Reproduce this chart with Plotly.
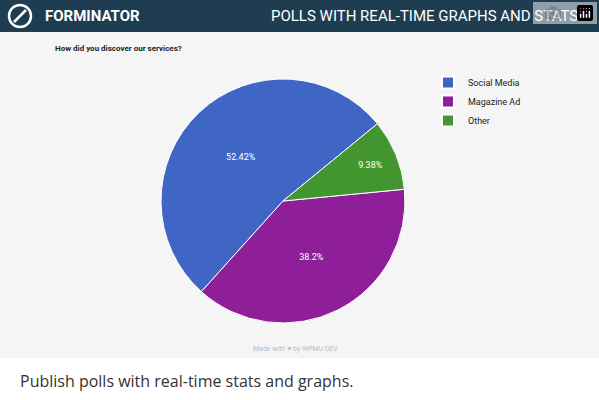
import plotly.graph_objects as go

labels = ["Social Media", "Magazine Ad", "Other"]
values = [52.42, 38.2, 9.38]
colors = ["#3f66c5", "#8e1f98", "#43962f"]

W, H = 599, 400
fig = go.Figure(go.Pie(
    labels=labels, values=values, sort=False, direction="counterclockwise", rotation=222,
    marker=dict(colors=colors, line=dict(color="white", width=1)),
    textinfo="percent", texttemplate="%{value}%", textposition="inside",
    insidetextfont=dict(color="white", size=9, family="Roboto"),
    domain=dict(x=[158/W, 408/W], y=[1-323/H, 1-79/H]),
    hoverinfo="label+percent",
))
shapes = [
    dict(type="rect", xref="paper", yref="paper", x0=0, x1=1, y0=1-32/H, y1=1,
         fillcolor="#1f3d51", line_width=0, layer="below"),
    dict(type="rect", xref="paper", yref="paper", x0=0, x1=1, y0=1-358/H, y1=1-32/H,
         fillcolor="#f5f5f5", line_width=0, layer="below"),
    dict(type="circle", xref="paper", yref="paper", x0=9/W, x1=31/W, y0=1-27/H, y1=1-5/H,
         line=dict(color="white", width=2.5)),
    dict(type="line", xref="paper", yref="paper", x0=14/W, x1=26/W, y0=1-22/H, y1=1-10/H,
         line=dict(color="white", width=2.5)),
]
ann = [
    dict(text="<b>FORMINATOR</b>", x=43/W, y=1-16/H, xanchor="left", yanchor="middle",
         font=dict(color="white", size=15, family="Roboto")),
    dict(text="POLLS WITH REAL-TIME GRAPHS AND STATS", x=580/W, y=1-16/H, xanchor="right",
         yanchor="middle", font=dict(color="white", size=15, family="Roboto")),
    dict(text="<b>How did you discover our services?</b>", x=53/W, y=1-48/H, xanchor="left",
         yanchor="middle", font=dict(color="#222", size=8, family="Roboto")),
    dict(text="Made with ♥ by WPMU DEV", x=296/W, y=1-349/H, xanchor="center",
         yanchor="middle", font=dict(color="#bbb", size=7, family="Roboto")),
    dict(text="Publish polls with real-time stats and graphs.", x=18/W, y=1-381/H,
         xanchor="left", yanchor="middle", font=dict(color="#333", size=16, family="Open Sans")),
]
for a in ann:
    a.update(xref="paper", yref="paper", showarrow=False)
fig.update_layout(
    width=W, height=H, margin=dict(l=0, r=0, t=0, b=0),
    paper_bgcolor="white", shapes=shapes, annotations=ann,
    legend=dict(x=428/W, y=1-68/H, xanchor="left", yanchor="top",
                font=dict(size=9, color="#222", family="Roboto"), bgcolor="rgba(0,0,0,0)",
                itemsizing="constant", tracegroupgap=2),
)
fig.write_html("out.html", post_script="document.body.style.margin='0';")
